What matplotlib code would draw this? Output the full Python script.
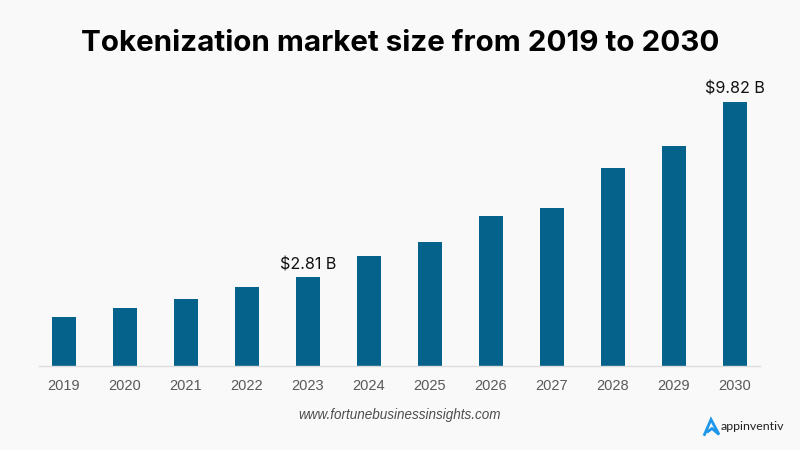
"""Tokenization market size bar chart."""
import matplotlib
matplotlib.use("Agg")
import matplotlib.pyplot as plt
from matplotlib.lines import Line2D

years = ["2019", "2020", "2021", "2022", "2023", "2024", "2025", "2026", "2027", "2028", "2029", "2030"]
values = [1.81, 2.14, 2.48, 2.93, 3.28, 4.08, 4.60, 5.57, 5.87, 7.36, 8.18, 9.82]
labels = {4: "$2.81 B", 11: "$9.82 B"}

W, H = 800, 450
BG = "#f9f9f9"
BAR = "#05628a"

fig = plt.figure(figsize=(W / 100, H / 100), dpi=100, facecolor=BG)
ax = fig.add_axes([39 / W, 1 - 365.5 / H, 721 / W, 285.5 / H], facecolor="none")

x = range(len(years))
ax.bar(x, values, width=0.4, color=BAR)
ax.set_xlim(-0.41, 11.41)
ax.set_ylim(0, 10.64)
ax.set_xticks(list(x), years, fontsize=10.5, color="#595959", family="Liberation Sans")
ax.tick_params(axis="x", length=0, pad=10)
ax.set_yticks([])
for s in ["top", "left", "right"]:
    ax.spines[s].set_visible(False)
ax.spines["bottom"].set_color("#dcdcdc")
ax.spines["bottom"].set_linewidth(1)

for i, txt in labels.items():
    ax.text(i, values[i] + 0.2, txt.replace("$", r"\$"), ha="center", va="bottom", fontsize=11.6,
            color="#111111", family="Inter")

fig.text(0.5, 1 - 43.5 / H, "Tokenization market size from 2019 to 2030", ha="center", va="center",
         fontsize=21.3, fontweight="bold", color="#000000", family="Inter")
fig.text(399.5 / W, 1 - 415.5 / H, "www.fortunebusinessinsights.com", ha="center", va="center",
         fontsize=9.75, style="italic", color="#4d4d4d", family="Liberation Sans")

# appinventiv logo: outlined blue arrow plus wordmark
logo_x = [704.5, 711, 719, 712, 708]
logo_y = [434.5, 419.5, 434.5, 428.5, 431.5]
fig.add_artist(Line2D([v / W for v in logo_x], [1 - v / H for v in logo_y], color="#1e96ea", lw=2,
                      solid_joinstyle="miter", transform=fig.transFigure))
fig.text(721 / W, 1 - 427 / H, "appinventiv", ha="left", va="center", fontsize=8.9,
         color="#222222", family="Lato")

fig.savefig("out.png", dpi=100, facecolor=BG)
